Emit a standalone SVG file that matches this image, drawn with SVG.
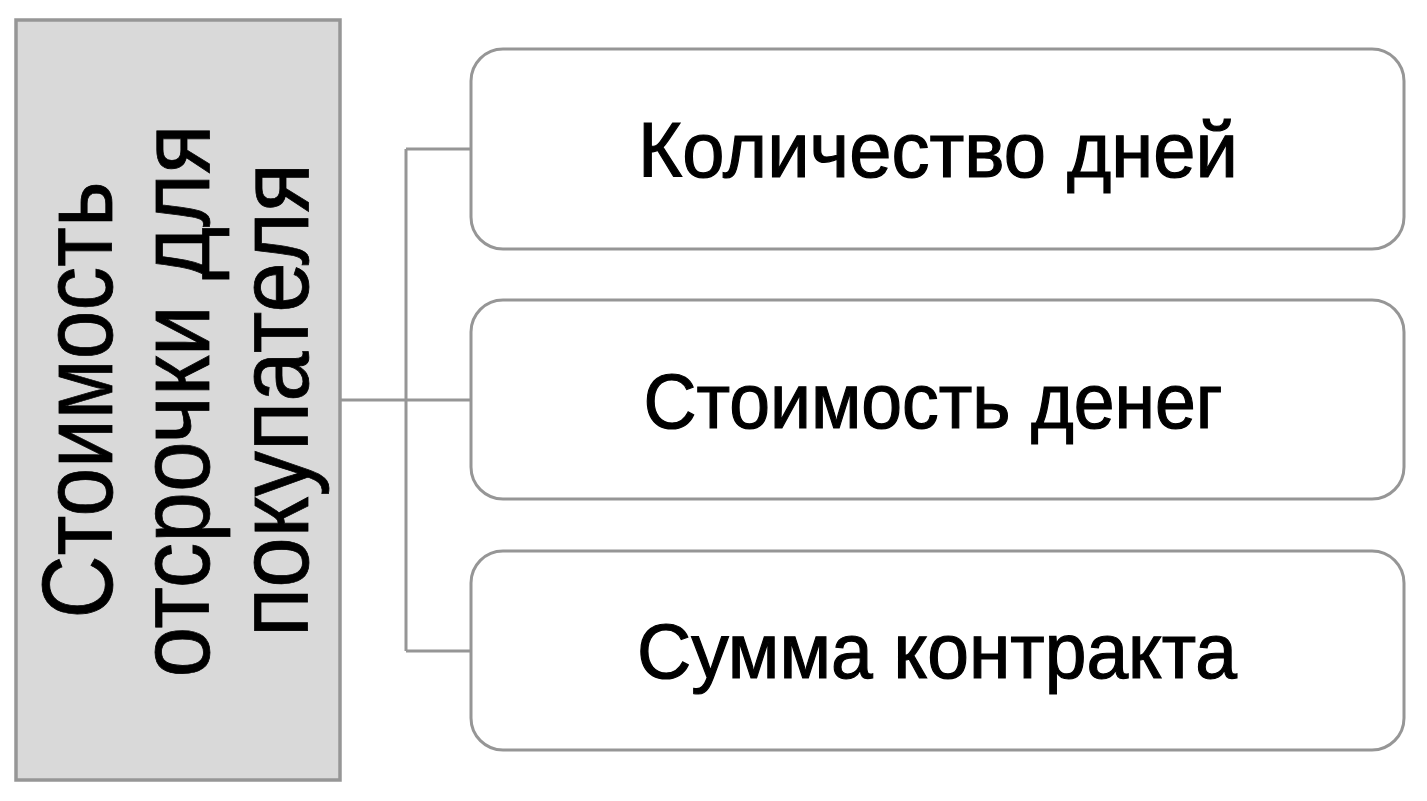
<svg xmlns="http://www.w3.org/2000/svg" width="1427" height="801" viewBox="0 0 1427 801">
<style>
.box{fill:#ffffff;stroke:#969696;stroke-width:3}
.main{fill:#d9d9d9;stroke:#969696;stroke-width:3.5}
.conn{fill:none;stroke:#969696;stroke-width:3}
.lt{font-family:"Liberation Sans",Arial,sans-serif;font-size:100px;fill:#000;stroke:#000;stroke-width:0.8;text-anchor:middle}
.rt{font-family:"Liberation Sans Narrow","Liberation Sans",Arial,sans-serif;font-size:78px;fill:#000;stroke:#000;stroke-width:1.2;text-anchor:middle}
</style>
<rect width="1427" height="801" fill="#ffffff"/>
<g id="connectors">
<path class="conn" d="M340 400 H470 M406 149 V651 M406 149 H470 M406 651 H470"/>
</g>
<g id="main">
<rect class="main" x="16" y="20" width="324" height="760"/>
<text class="lt" transform="translate(112,400) rotate(-90)" textLength="437" lengthAdjust="spacingAndGlyphs">Стоимость</text>
<text class="lt" transform="translate(209,401) rotate(-90)" textLength="553" lengthAdjust="spacingAndGlyphs">отсрочки для</text>
<text class="lt" transform="translate(308,400) rotate(-90)" textLength="474" lengthAdjust="spacingAndGlyphs">покупателя</text>
</g>
<g id="days">
<rect class="box" x="471" y="49" width="933" height="200" rx="32"/>
<text class="rt" x="938" y="177" textLength="600" lengthAdjust="spacingAndGlyphs">Количество дней</text>
</g>
<g id="money">
<rect class="box" x="471" y="300" width="933" height="199" rx="32"/>
<text class="rt" x="933" y="428" textLength="579" lengthAdjust="spacingAndGlyphs">Стоимость денег</text>
</g>
<g id="sum">
<rect class="box" x="471" y="551" width="933" height="199" rx="32"/>
<text class="rt" x="937" y="678" textLength="600" lengthAdjust="spacingAndGlyphs">Сумма контракта</text>
</g>
</svg>
